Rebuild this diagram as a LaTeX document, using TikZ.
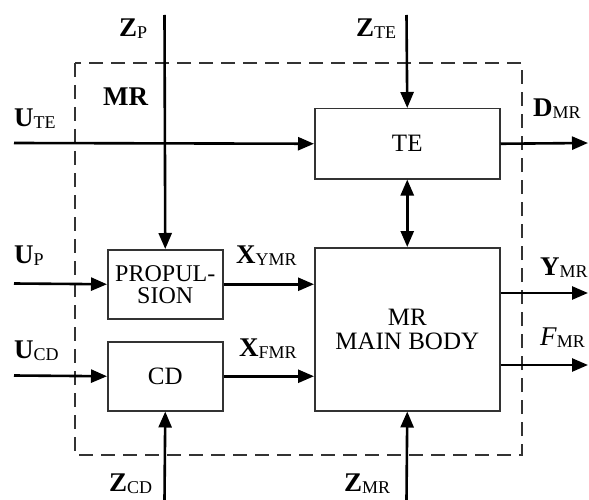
\documentclass[tikz,border=0pt]{standalone}
\usepackage{fontspec}
\setmainfont{Liberation Serif}
\usetikzlibrary{arrows.meta}
\newcommand{\subtxt}[1]{{\fontsize{18}{18}\selectfont\raisebox{-2pt}{#1}}}
\newcommand{\lbl}[2]{\textbf{#1}\subtxt{#2}}
\begin{document}
\begin{tikzpicture}[x=1pt,y=-1pt,
  blk/.style={draw=black!80, line width=1.5pt, font=\fontsize{25}{24}\selectfont,
    align=center, inner sep=0pt, anchor=north west},
  arr/.style={line width=2.6pt, -{Triangle[length=16pt,width=13pt]}},
  darr/.style={line width=2.6pt, {Triangle[length=16pt,width=13pt]}-{Triangle[length=16pt,width=13pt]}},
  lab/.style={font=\fontsize{27}{27}\selectfont, inner sep=0pt, anchor=base west}]
\useasboundingbox (0,0) rectangle (589,500);
\draw[line width=1.5pt, black!80, dash pattern=on 14pt off 8pt] (75,63) rectangle (522,455);
\node[blk, minimum width=185pt, minimum height=70pt] (te) at (314,108) {TE};
\node[blk, minimum width=185pt, minimum height=163pt] (mb) at (314,247) {MR\\MAIN BODY};
\node[blk, minimum width=115pt, minimum height=69pt, font=\fontsize{24}{22}\selectfont] (prop) at (107,249) {PROPUL-\\SION};
\node[blk, minimum width=115pt, minimum height=69pt] (cd) at (107,341) {CD};
\coordinate (zp) at (164.5,15);
\coordinate (ute) at (14,143);
\coordinate (zte) at (406.5,15);
\coordinate (dmr) at (588,143);
\coordinate (up) at (14,283.5);
\coordinate (ucd) at (14,375.5);
\coordinate (zcd) at (164.5,500);
\coordinate (zmr) at (406.5,500);
\coordinate (ymr) at (588,293);
\coordinate (fmr) at (588,365);
\draw[arr] (zp) -- (prop.north);
\draw[arr] (ute) -- (te.west);
\draw[arr] (zte) -- (te.north);
\draw[arr] (te.east) -- (dmr);
\draw[darr] (te.south) -- (mb.north);
\draw[arr] (up) -- (prop.west);
\draw[arr] (prop.east) -- (prop.east -| mb.west);
\draw[arr] (ucd) -- (cd.west);
\draw[arr] (cd.east) -- (cd.east -| mb.west);
\draw[arr] (zcd) -- (cd.south);
\draw[arr] (zmr) -- (mb.south);
\draw[arr] (mb.east |- ymr) -- (ymr);
\draw[arr] (mb.east |- fmr) -- (fmr);
\node[lab] (lzp) at (119,37) {\lbl{Z}{P}};
\node[lab] (lmr) at (103,106) {\textbf{MR}};
\node[lab] (lute) at (14,127) {\lbl{U}{TE}};
\node[lab] (lzte) at (356,37) {\lbl{Z}{TE}};
\node[lab] (ldmr) at (533,117) {\lbl{D}{MR}};
\node[lab] (lup) at (14,263) {\lbl{U}{P}};
\node[lab] (lxy) at (236,263) {\lbl{X}{YMR}};
\node[lab] (lucd) at (14,358) {\lbl{U}{CD}};
\node[lab] (lxf) at (239,356) {\lbl{X}{FMR}};
\node[lab] (lzcd) at (109,491) {\lbl{Z}{CD}};
\node[lab] (lzmr) at (344,491) {\lbl{Z}{MR}};
\node[lab] (lymr) at (540,275) {\lbl{Y}{MR}};
\node[lab] (lfmr) at (540,345) {\textit{F}\subtxt{MR}};
\end{tikzpicture}
\end{document}
